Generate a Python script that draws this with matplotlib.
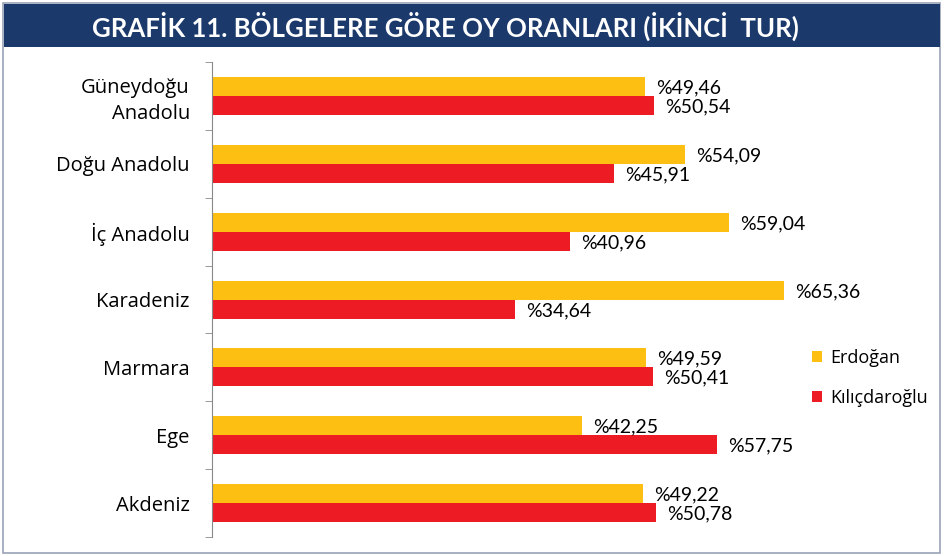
import matplotlib
matplotlib.use("Agg")
import matplotlib.pyplot as plt
from matplotlib.patches import Rectangle
import numpy as np

# Grafik 11 - bölgelere göre oy oranları (ikinci tur)
regions = ['Güneydoğu\nAnadolu', 'Doğu Anadolu', 'İç Anadolu', 'Karadeniz',
           'Marmara', 'Ege', 'Akdeniz']
erdogan = [49.46, 54.09, 59.04, 65.36, 49.59, 42.25, 49.22]
kilicdaroglu = [50.54, 45.91, 40.96, 34.64, 50.41, 57.75, 50.78]
series_names = ['Erdoğan', 'Kılıçdaroğlu']

yellow = '#FCBF12'
red = '#ED1C24'
navy = '#1B3A6B'
lato = ['Lato', 'DejaVu Sans']
opens = ['Open Sans', 'DejaVu Sans']

W, H = 944, 556
fig = plt.figure(figsize=(W / 100, H / 100), dpi=100)

# outer frame + title banner
fig.patches.append(Rectangle((3 / W, 3 / H), 937 / W, 550 / H, transform=fig.transFigure,
                             fill=False, edgecolor='#9AA3B5', lw=1.2))
fig.patches.append(Rectangle((4 / W, 1 - 47 / H), 936 / W, 43 / H, transform=fig.transFigure,
                             facecolor=navy, edgecolor='none'))
fig.text(445 / W, 1 - 26 / H, 'GRAFİK 11. BÖLGELERE GÖRE OY ORANLARI (İKİNCİ  TUR)',
         ha='center', va='center', color='white', fontsize=18.5, fontweight='bold',
         family=lato)

ax = fig.add_axes([212 / W, 1 - 537 / H, 700 / W, 475 / H])
y = np.arange(len(regions))
h = 0.28
bars_e = ax.barh(y - h / 2, erdogan, height=h, color=yellow, label=series_names[0])
bars_k = ax.barh(y + h / 2, kilicdaroglu, height=h, color=red, label=series_names[1])

for bars in (bars_e, bars_k):
    for b in bars:
        v = b.get_width()
        ax.annotate('%' + f'{v:.2f}'.replace('.', ','),
                    (v, b.get_y() + b.get_height() / 2),
                    xytext=(8, -1), textcoords='offset points',
                    ha='left', va='center', fontsize=14, family=lato)

ax.set_xlim(0, 80)
ax.set_ylim(len(regions) - 0.5, -0.5)
ax.set_yticks(y)
ax.set_yticklabels(regions, fontsize=14.5, family=opens, linespacing=1.4)
ax.set_yticks(np.arange(len(regions) + 1) - 0.5, minor=True)
ax.tick_params(axis='y', which='major', length=0, pad=16)
ax.tick_params(axis='y', which='minor', length=5, color='#888888', direction='out')
ax.set_xticks([])
for s in ['top', 'right', 'bottom']:
    ax.spines[s].set_visible(False)
ax.spines['left'].set_color('#888888')

leg = fig.legend(handles=[bars_e, bars_k], loc='center left',
                 bbox_to_anchor=(796 / W, 1 - 378 / H), frameon=False,
                 handlelength=0.55, handleheight=0.55,
                 handletextpad=0.45, labelspacing=1.2,
                 prop={'family': opens, 'size': 13})

plt.savefig('out.png', dpi=100)
